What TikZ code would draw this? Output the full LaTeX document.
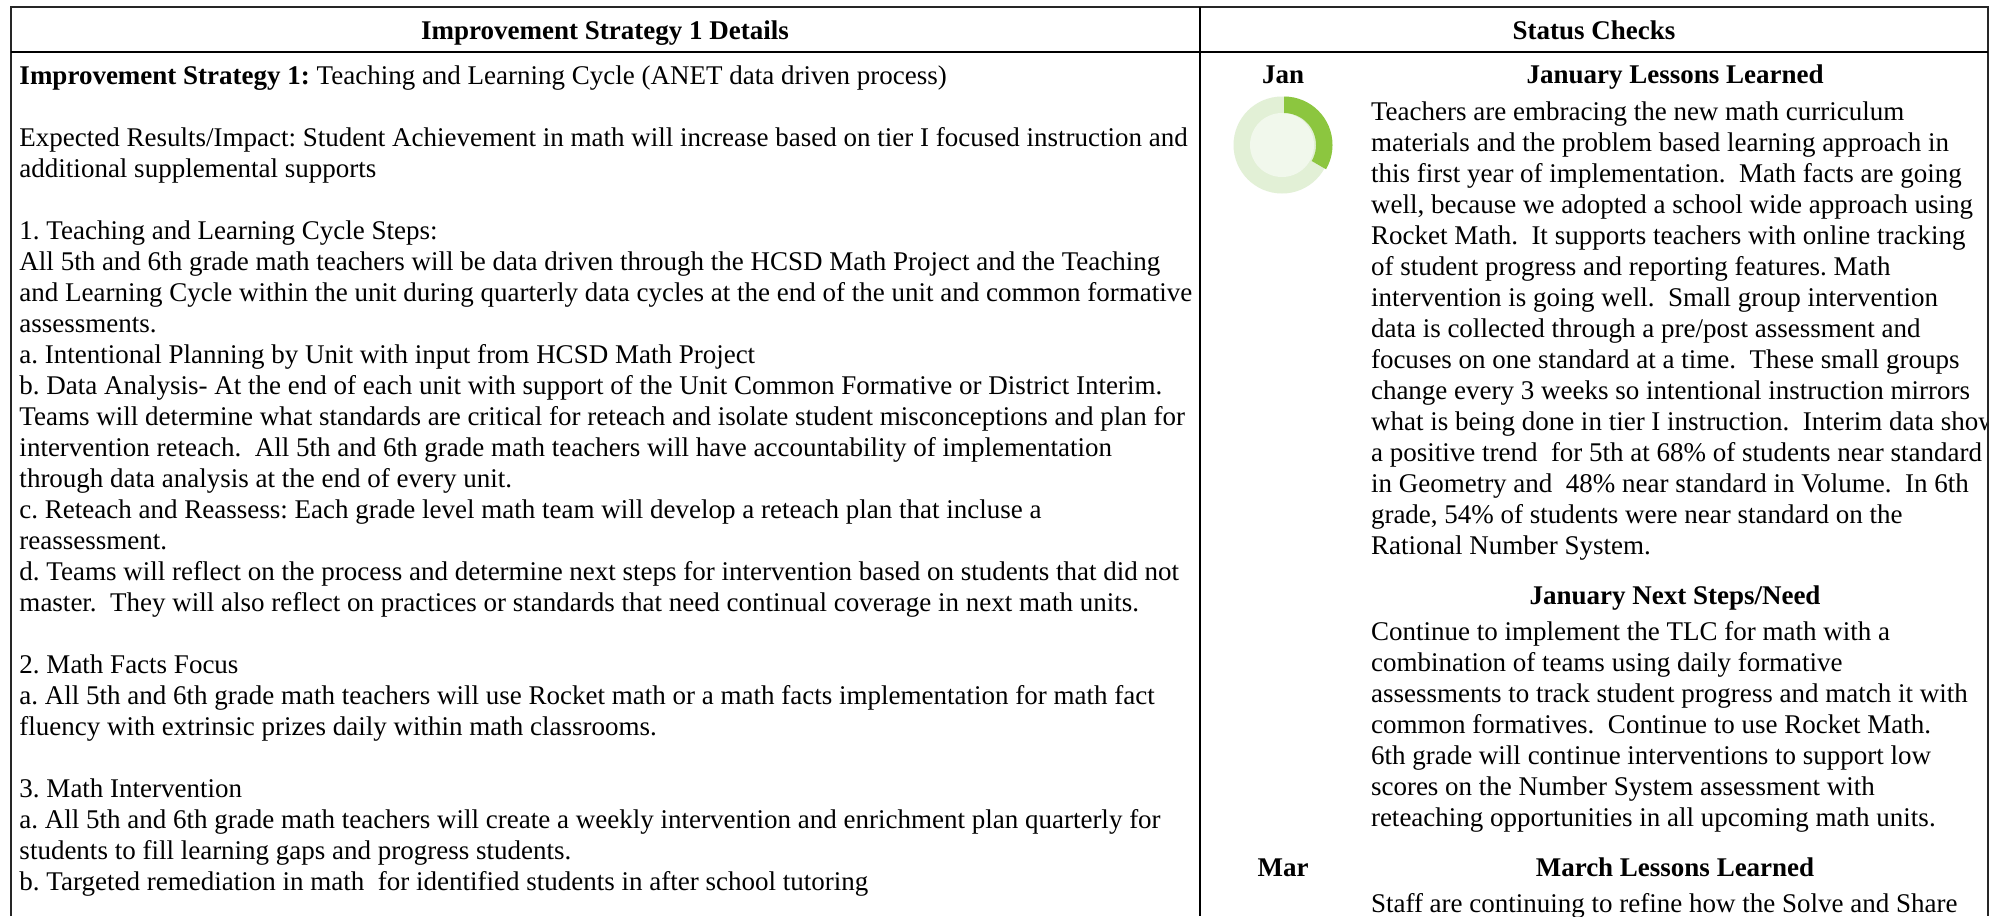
\documentclass[tikz,border=0pt]{standalone}
\usepackage{fontspec}
\setmainfont{Liberation Serif}
\frenchspacing
\definecolor{ringlight}{HTML}{E2F0D6}
\definecolor{ringin}{HTML}{F1F8EC}
\definecolor{ringgreen}{HTML}{8CC63F}
\tikzset{
  txt/.style={anchor=base west,inner sep=0pt,outer sep=0pt,font=\fontsize{27}{31}\selectfont},
  head/.style={anchor=base,inner sep=0pt,outer sep=0pt,font=\fontsize{27}{31}\selectfont\bfseries},
  rule/.style={line width=2pt,black},
  frame/.style={line width=1.6pt,black!85}
}
\newcommand\LL[2]{\node[txt] (l#1) at (19.5,{84.2+31*#1}) {#2};}
\newcommand\RR[3]{\node[txt] (#1) at (1371,{#2}) {#3};}
\newcommand\donut[2]{%
  \begin{scope}[shift={(1284,#1)},x=1pt,y=1pt]
    \fill[ringlight] (-2,0) circle[radius=48.5];
    \fill[ringin] (-2,0) circle[radius=32];
    \fill[ringgreen] (0,48.5) arc[start angle=90,end angle=-30,radius=48.5] -- (-30:32) arc[start angle=-30,end angle=90,radius=32] -- cycle;
  \end{scope}}
\begin{document}
\begin{tikzpicture}[x=1pt,y=-1pt]
\useasboundingbox (0,0) rectangle (2007,916);
\fill[white] (0,0) rectangle (2007,916);
\coordinate (tl) at (11,7);
\coordinate (tr) at (1988,7);
\coordinate (bl) at (11,916);
\coordinate (br) at (1988,916);
\coordinate (ml) at (11,52);
\coordinate (mr) at (1988,52);
\coordinate (ct) at (1200,7);
\coordinate (cb) at (1200,916);
\node[head] (h1) at (605,39) {Improvement Strategy 1 Details};
\node[head] (h2) at (1594,39) {Status Checks};
\LL{0}{\textbf{Improvement Strategy 1:} Teaching and Learning Cycle (ANET data driven process)}
\LL{2}{Expected Results/Impact: Student Achievement in math will increase based on tier I focused instruction and}
\LL{3}{additional supplemental supports}
\LL{5}{1. Teaching and Learning Cycle Steps:}
\LL{6}{All 5th and 6th grade math teachers will be data driven through the HCSD Math Project and the Teaching}
\LL{7}{and Learning Cycle within the unit during quarterly data cycles at the end of the unit and common formative}
\LL{8}{assessments.}
\LL{9}{a. Intentional Planning by Unit with input from HCSD Math Project}
\LL{10}{b. Data Analysis- At the end of each unit with support of the Unit Common Formative or District Interim.}
\LL{11}{Teams will determine what standards are critical for reteach and isolate student misconceptions and plan for}
\LL{12}{intervention reteach.\ \ All 5th and 6th grade math teachers will have accountability of implementation}
\LL{13}{through data analysis at the end of every unit.}
\LL{14}{c. Reteach and Reassess: Each grade level math team will develop a reteach plan that incluse a}
\LL{15}{reassessment.}
\LL{16}{d. Teams will reflect on the process and determine next steps for intervention based on students that did not}
\LL{17}{master.\ \ They will also reflect on practices or standards that need continual coverage in next math units.}
\LL{19}{2. Math Facts Focus}
\LL{20}{a. All 5th and 6th grade math teachers will use Rocket math or a math facts implementation for math fact}
\LL{21}{fluency with extrinsic prizes daily within math classrooms.}
\LL{23}{3. Math Intervention}
\LL{24}{a. All 5th and 6th grade math teachers will create a weekly intervention and enrichment plan quarterly for}
\LL{25}{students to fill learning gaps and progress students.}
\LL{26}{b. Targeted remediation in math\ \ for identified students in after school tutoring}
\donut{145}
\donut{938}
\node[head] (jan) at (1283,83.5) {Jan};
\node[head] (mar) at (1283,876) {Mar};
\node[head] (jl) at (1675,83.5) {January Lessons Learned};
\node[head] (jn) at (1675,604) {January Next Steps/Need};
\node[head] (ml2) at (1675,876) {March Lessons Learned};
\begin{scope}
\clip (1201,53) rectangle (1988,916);
\RR{r0}{120.5+31*0}{Teachers are embracing the new math curriculum}
\RR{r1}{120.5+31*1}{materials and the problem based learning approach in}
\RR{r2}{120.5+31*2}{this first year of implementation.\ \ Math facts are going}
\RR{r3}{120.5+31*3}{well, because we adopted a school wide approach using}
\RR{r4}{120.5+31*4}{Rocket Math.\ \ It supports teachers with online tracking}
\RR{r5}{120.5+31*5}{of student progress and reporting features. Math}
\RR{r6}{120.5+31*6}{intervention is going well.\ \ Small group intervention}
\RR{r7}{120.5+31*7}{data is collected through a pre/post assessment and}
\RR{r8}{120.5+31*8}{focuses on one standard at a time.\ \ These small groups}
\RR{r9}{120.5+31*9}{change every 3 weeks so intentional instruction mirrors}
\RR{r10}{120.5+31*10}{what is being done in tier I instruction.\ \ Interim data show}
\RR{r11}{120.5+31*11}{a positive trend\ \ for 5th at 68\% of students near standard}
\RR{r12}{120.5+31*12}{in Geometry and\ \ 48\% near standard in Volume.\ \ In 6th}
\RR{r13}{120.5+31*13}{grade, 54\% of students were near standard on the}
\RR{r14}{120.5+31*14}{Rational Number System.}
\RR{n0}{640.5+31*0}{Continue to implement the TLC for math with a}
\RR{n1}{640.5+31*1}{combination of teams using daily formative}
\RR{n2}{640.5+31*2}{assessments to track student progress and match it with}
\RR{n3}{640.5+31*3}{common formatives.\ \ Continue to use Rocket Math.}
\RR{n4}{640.5+31*4}{6th grade will continue interventions to support low}
\RR{n5}{640.5+31*5}{scores on the Number System assessment with}
\RR{n6}{640.5+31*6}{reteaching opportunities in all upcoming math units.}
\RR{m0}{912}{Staff are continuing to refine how the Solve and Share}
\end{scope}
\draw[frame] (bl) -- (tl) -- (tr) -- (br);
\draw[rule] (ml) -- (mr);
\draw[rule] (ct) -- (cb);
\end{tikzpicture}
\end{document}
